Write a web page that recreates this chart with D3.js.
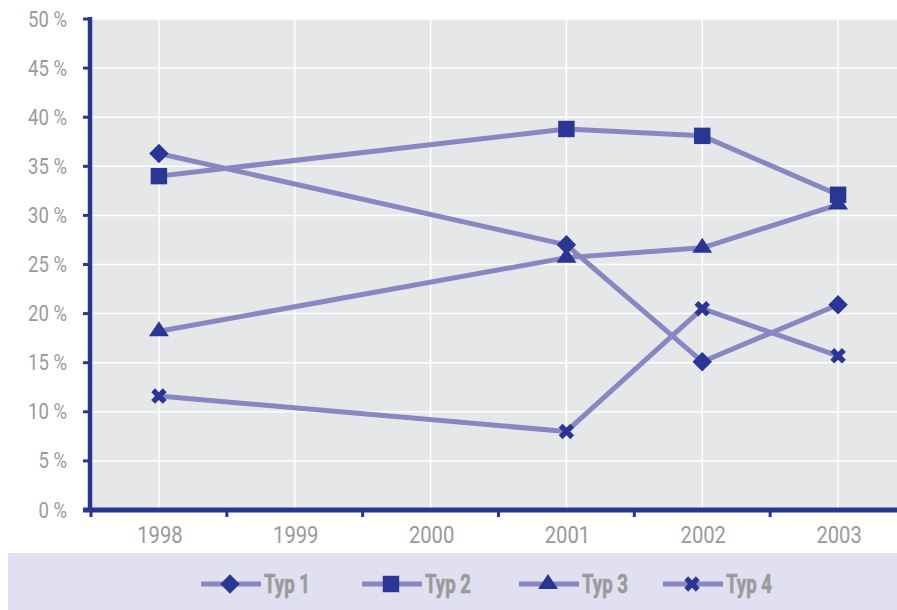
<!DOCTYPE html>
<html>
<head>
<meta charset="utf-8">
<script src="https://cdn.jsdelivr.net/npm/d3@7"></script>
<style>
  html, body { margin: 0; padding: 0; background: #ffffff; }
  svg { display: block; }
  text { font-family: Roboto, "Liberation Sans", sans-serif; }
</style>
</head>
<body>
<svg id="chart" width="897" height="610"></svg>
<script>
// Categories (years) and the share of each type, in percent
const years = ["1998", "1999", "2000", "2001", "2002", "2003"];
const typ1 = [["1998", 36.3], ["2001", 27.0], ["2002", 15.1], ["2003", 20.9]];
const typ2 = [["1998", 34.0], ["2001", 38.8], ["2002", 38.1], ["2003", 32.1]];
const typ3 = [["1998", 18.2], ["2001", 25.7], ["2002", 26.7], ["2003", 31.1]];
const typ4 = [["1998", 11.6], ["2001", 8.0], ["2002", 20.5], ["2003", 15.7]];
const seriesNames = ["Typ 1", "Typ 2", "Typ 3", "Typ 4"];
const yTicks = [0, 5, 10, 15, 20, 25, 30, 35, 40, 45, 50];

// Wide, flat triangle centred on its centroid
const symbolFlatTriangle = {
  draw(ctx, size) {
    const w = 20, h = 15;
    ctx.moveTo(0, -h * 2 / 3);
    ctx.lineTo(w / 2, h / 3);
    ctx.lineTo(-w / 2, h / 3);
    ctx.closePath();
  }
};

const series = [
  { name: seriesNames[0], values: typ1, symbol: d3.symbolSquare, size: 190, rotate: 45 },
  { name: seriesNames[1], values: typ2, symbol: d3.symbolSquare, size: 270, rotate: 0 },
  { name: seriesNames[2], values: typ3, symbol: symbolFlatTriangle, size: 200, rotate: 0 },
  { name: seriesNames[3], values: typ4, symbol: d3.symbolCross, size: 150, rotate: 45 }
];

const W = 897, H = 610;
const plot = { left: 91, top: 19, right: 906, bottom: 510 };
const lineColor = "#8986c1";
const markColor = "#2a3693";
const axisColor = "#2a3693";
const labelColor = "#9a9a9c";
const squeeze = 0.86;   // condensed look for axis labels

const svg = d3.select("#chart");

const x = d3.scaleBand().domain(years).range([plot.left, plot.right]);
const y = d3.scaleLinear().domain([0, 50]).range([plot.bottom, plot.top]);
const cx = d => x(d) + x.bandwidth() / 2;

// Plot background
svg.append("rect")
  .attr("x", plot.left).attr("y", plot.top)
  .attr("width", W - plot.left).attr("height", plot.bottom - plot.top)
  .attr("fill", "#e6e7e9");

// Grid lines
svg.append("g").selectAll("line").data(yTicks.slice(1)).join("line")
  .attr("x1", plot.left).attr("x2", W)
  .attr("y1", d => y(d)).attr("y2", d => y(d))
  .attr("stroke", "#ffffff").attr("stroke-width", 1.5);
svg.append("g").selectAll("line").data(years).join("line")
  .attr("x1", d => cx(d)).attr("x2", d => cx(d))
  .attr("y1", plot.top).attr("y2", plot.bottom)
  .attr("stroke", "#ffffff").attr("stroke-width", 1.5);

// Series lines
const line = d3.line().x(d => cx(d[0])).y(d => y(d[1]));
svg.append("g").selectAll("path").data(series).join("path")
  .attr("d", s => line(s.values))
  .attr("fill", "none")
  .attr("stroke", lineColor)
  .attr("stroke-width", 5)
  .attr("stroke-linejoin", "round");

// Markers
series.forEach(s => {
  svg.append("g").selectAll("path").data(s.values).join("path")
    .attr("d", d3.symbol().type(s.symbol).size(s.size))
    .attr("transform", d => `translate(${cx(d[0])},${y(d[1])}) rotate(${s.rotate})`)
    .attr("fill", markColor);
});

// Y axis: ticks and labels
svg.append("g").selectAll("line").data(yTicks).join("line")
  .attr("x1", 83).attr("x2", plot.left)
  .attr("y1", d => y(d)).attr("y2", d => y(d))
  .attr("stroke", axisColor).attr("stroke-width", 3);
svg.append("g").selectAll("text").data(yTicks).join("text")
  .attr("transform", d => `translate(67,${y(d) + 7.5}) scale(${squeeze},1)`)
  .attr("text-anchor", "end")
  .attr("fill", labelColor)
  .attr("font-size", 21.5)
  .text(d => d + " %");
svg.append("line")
  .attr("x1", plot.left - 1).attr("x2", plot.left - 1)
  .attr("y1", plot.top - 2).attr("y2", plot.bottom + 2)
  .attr("stroke", axisColor).attr("stroke-width", 4.5);

// X axis
const boundaries = years.map(d => x(d)).concat([plot.right]);
svg.append("line")
  .attr("x1", 83).attr("x2", W)
  .attr("y1", plot.bottom).attr("y2", plot.bottom)
  .attr("stroke", axisColor).attr("stroke-width", 5);
svg.append("g").selectAll("line").data(boundaries).join("line")
  .attr("x1", d => d).attr("x2", d => d)
  .attr("y1", plot.bottom).attr("y2", plot.bottom + 7)
  .attr("stroke", axisColor).attr("stroke-width", 3);
svg.append("g").selectAll("text").data(years).join("text")
  .attr("transform", d => `translate(${cx(d) + 1},543) scale(${squeeze},1)`)
  .attr("text-anchor", "middle")
  .attr("fill", labelColor)
  .attr("font-size", 23.5)
  .text(d => d);

// Legend band
svg.append("rect")
  .attr("x", 8).attr("y", 553).attr("width", W - 8).attr("height", 57)
  .attr("fill", "#e1e0f0");

const legendX = [201, 362, 519, 663];
const legend = svg.append("g").selectAll("g").data(series).join("g")
  .attr("transform", (s, i) => `translate(${legendX[i]},584)`);
legend.append("line")
  .attr("x1", 0).attr("x2", 60).attr("y1", 0).attr("y2", 0)
  .attr("stroke", lineColor).attr("stroke-width", 5);
legend.append("path")
  .attr("d", s => d3.symbol().type(s.symbol).size(s.size)())
  .attr("transform", s => `translate(29,0) rotate(${s.rotate})`)
  .attr("fill", markColor);
legend.append("text")
  .attr("transform", `translate(63,9) scale(0.73,1)`)
  .attr("fill", labelColor)
  .attr("stroke", labelColor)
  .attr("stroke-width", 0.6)
  .attr("font-size", 25.5)
  .attr("font-weight", "bold")
  .text(s => s.name);
</script>
</body>
</html>
